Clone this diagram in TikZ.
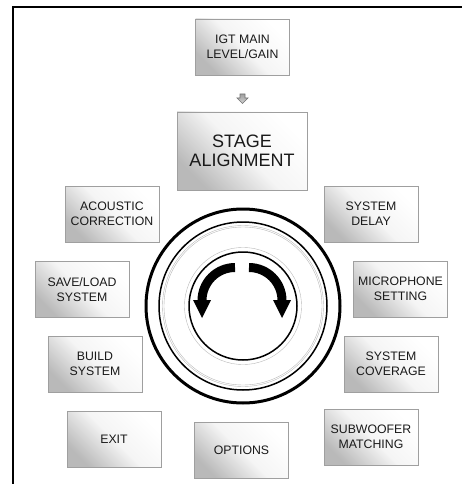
\documentclass[tikz,border=0pt]{standalone}
\usepackage{fontspec}
\setmainfont{Liberation Sans}
\usetikzlibrary{calc}
\begin{document}
\begin{tikzpicture}[x=1pt,y=1pt,
  menubox/.style={draw=gray!75, line width=0.8pt, minimum width=94pt, minimum height=56pt,
    inner sep=0pt, align=center, text=black!90,
    bottom color=gray!55, top color=white, middle color=gray!8, shading angle=-45,
    font=\fontsize{12.3}{14.8}\selectfont},
  bigbox/.style={menubox, minimum width=130pt, minimum height=78pt,
    font=\fontsize{18}{18.5}\selectfont},
  ring/.style={draw=black},
  thinring/.style={draw=gray!55, line width=0.4pt},
  turn/.style={line width=9pt, draw=black},
  turnhead/.style={fill=black, draw=none}]
\useasboundingbox (0,0) rectangle (461,-484);
% frame
\draw[line width=2.5pt, line join=miter] (13,-486) -- (13,-7) -- (463,-7);
% boxes
\node[menubox] (igt) at (242.5,-47) {IGT MAIN\\LEVEL/GAIN};
\node[bigbox] (stage) at (242,-151) {STAGE\\ALIGNMENT};
\node[menubox] (acoustic) at (112,-214) {ACOUSTIC\\CORRECTION};
\node[menubox] (delay) at (371,-214) {SYSTEM\\DELAY};
\node[menubox] (saveload) at (82,-289.5) {SAVE/LOAD\\SYSTEM};
\node[menubox] (mic) at (400.5,-289) {MICROPHONE\\SETTING};
\node[menubox] (build) at (95,-364) {BUILD\\SYSTEM};
\node[menubox] (coverage) at (391,-364) {SYSTEM\\COVERAGE};
\node[menubox] (exit) at (114,-439) {EXIT};
\node[menubox] (options) at (241.5,-450.5) {OPTIONS};
\node[menubox] (sub) at (371,-437) {SUBWOOFER\\MATCHING};
% small down arrow
\draw[gray!90!black, line width=0.7pt, top color=gray!75, bottom color=gray!35]
  (240,-94) -- (245,-94) -- (245,-98) -- (248,-98) -- (242.5,-103.5) -- (237,-98) -- (240,-98) -- cycle;
% dial
\coordinate (c) at (243,-306);
\draw[ring, line width=3pt] (c) circle[radius=97];
\draw[ring, line width=1.5pt] (c) circle[radius=84];
\draw[thinring] (c) circle[radius=80.5];
\draw[thinring] (c) circle[radius=79];
\draw[thinring] (c) circle[radius=58.5];
\draw[ring, line width=1.5pt] (c) circle[radius=54];
% turn arrows
\draw[turn] (235,-267.5) arc[start angle=90, end angle=180, radius=33] -- ++(0,-1);
\fill[turnhead] (193,-300) -- (211,-300) -- (202,-318) -- cycle;
\draw[turn] (249,-267.5) arc[start angle=90, end angle=0, radius=33] -- ++(0,-1);
\fill[turnhead] (273,-300) -- (291,-300) -- (282,-318) -- cycle;
\end{tikzpicture}
\end{document}
